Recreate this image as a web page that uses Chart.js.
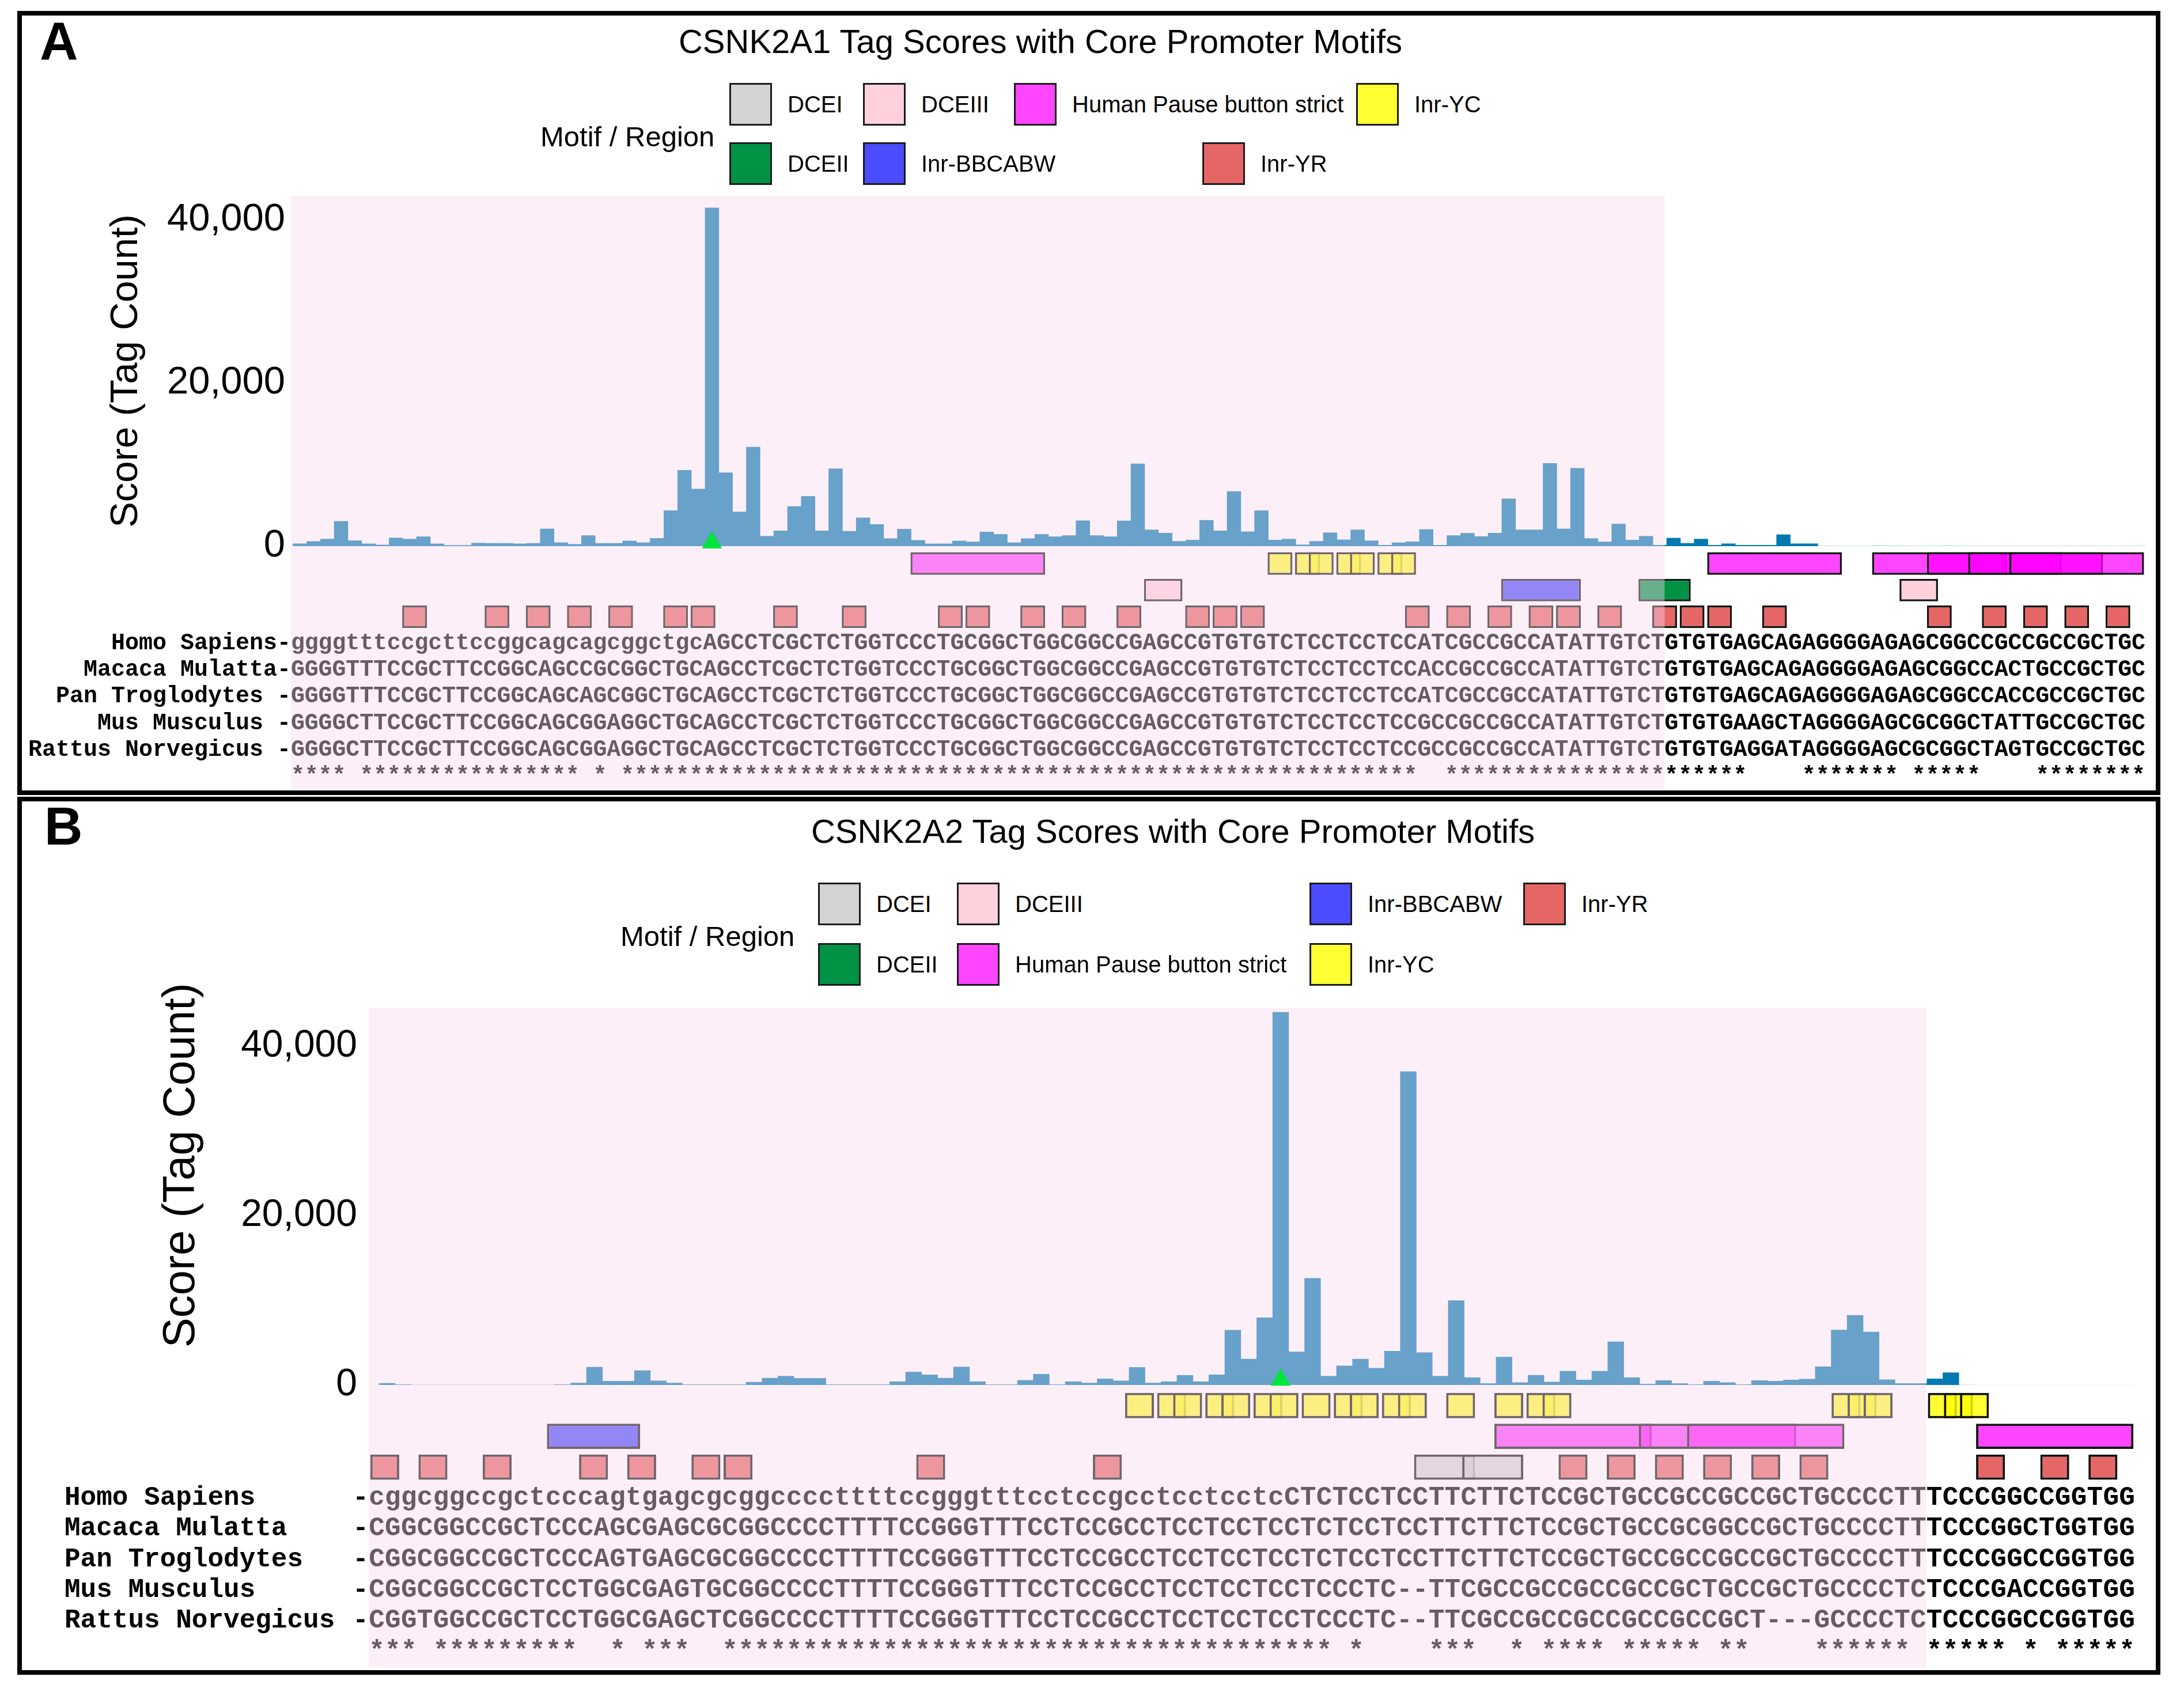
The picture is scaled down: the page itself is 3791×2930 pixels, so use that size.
<!DOCTYPE html>
<html>
<head>
<meta charset="utf-8">
<script src="https://cdn.jsdelivr.net/npm/chart.js"></script>
<style>
  html, body { margin: 0; padding: 0; background: #fff; }
  body { width: 3791px; height: 2930px; position: relative; overflow: hidden; font-family: "Liberation Sans", Arial, sans-serif; color: #000; }
  .panel { position: absolute; border: 8px solid #000; box-sizing: border-box; }
  .tag { position: absolute; font-weight: bold; font-size: 92px; line-height: 1; }
  .title { position: absolute; width: 2400px; text-align: center; font-size: 58px; line-height: 1; }
  .lgTitle { position: absolute; font-size: 49px; line-height: 1; transform: translateY(-50%); white-space: nowrap; }
  .sw { position: absolute; width: 74px; height: 74px; border: 3px solid #1b1b1b; box-sizing: border-box; }
  .lgText { position: absolute; font-size: 40px; line-height: 1; transform: translateY(-50%); white-space: nowrap; }
  canvas { position: absolute; left: 0; }
</style>
</head>
<body>
<div class="panel" style="left:30px;top:19px;width:3720px;height:1361px"></div>
<div class="panel" style="left:30px;top:1383px;width:3720px;height:1524px"></div>
<div class="tag" style="left:69px;top:25px">A</div>
<div class="tag" style="left:77px;top:1388px">B</div>
<div class="title" style="left:606px;top:43px">CSNK2A1 Tag Scores with Core Promoter Motifs</div>
<div class="title" style="left:836px;top:1414px">CSNK2A2 Tag Scores with Core Promoter Motifs</div>

<canvas id="barsA" width="3724" height="738" style="top:270px;width:3724px;height:738px"></canvas>
<canvas id="trackA" width="3724" height="476" style="top:925px;width:3724px;height:476px"></canvas>
<canvas id="barsB" width="3706" height="784" style="top:1680px;width:3706px;height:784px"></canvas>
<canvas id="trackB" width="3706" height="541" style="top:2383px;width:3706px;height:541px"></canvas>

<script>
// ---- motif legend ----
const motifNames = ['DCEI', 'DCEII', 'DCEIII', 'Human Pause button strict', 'Inr-BBCABW', 'Inr-YC', 'Inr-YR'];
const motifColors = ['rgba(200,200,200,0.8)', '#009245', '#ffd1dc', 'rgba(255,0,255,0.73)', '#4b4bff', 'rgba(255,255,0,0.8)', 'rgba(224,64,64,0.8)'];

const yTicks = [0, 20000, 40000];

// ---- CSNK2A1 tag scores (one per aligned base) ----
const tagsA = [
  300, 580, 870, 3050, 670, 290, 150, 1010, 870, 1160,
  290, 100, 100, 380, 350, 350, 290, 350, 2120, 430,
  230, 1300, 350, 350, 640, 430, 960, 4350, 9300, 7000,
  41500, 9000, 4200, 12150, 1220, 1880, 4870, 6100, 1880, 9500,
  1830, 3480, 2670, 930, 2090, 720, 290, 290, 640, 520,
  1740, 1450, 430, 930, 1450, 1160, 1300, 3130, 1300, 1160,
  3100, 10100, 2000, 1600, 590, 750, 3180, 1880, 6700, 1770,
  4360, 750, 870, 165, 590, 1650, 780, 2000, 660, 120,
  420, 540, 2050, 120, 1300, 1580, 1180, 1600, 5800, 2000,
  2000, 10150, 2120, 9550, 940, 520, 2710, 750, 1220, 120,
  990, 350, 870, 120, 300, 120, 120, 120, 1410, 300,
  300, 70, 60, 60, 60, 110, 90, 60, 60, 60,
  100, 60, 50, 50, 50, 50, 50, 50, 50, 50,
  50, 50, 50, 50, 50
];

// ---- CSNK2A2 tag scores ----
const tagsB = [
  200, 40, 0, 0, 0, 0, 0, 0, 0, 0,
  0, 40, 230, 2100, 450, 450, 1700, 490, 230, 40,
  40, 40, 40, 330, 810, 1040, 780, 780, 40, 40,
  40, 40, 390, 1530, 1200, 810, 2120, 390, 40, 40,
  550, 1270, 40, 390, 230, 720, 490, 2080, 230, 390,
  1140, 390, 1200, 6480, 3060, 7940, 44000, 3900, 12600, 1040,
  2260, 3050, 1980, 3990, 37000, 3820, 1040, 9960, 870, 170,
  3300, 280, 1150, 350, 1630, 590, 1630, 5100, 870, 100,
  520, 170, 40, 450, 280, 40, 520, 450, 590, 690,
  2150, 6490, 8220, 6250, 620, 170, 170, 720, 1450, 40,
  0, 0, 0, 0, 0, 0, 0, 0, 0, 0
];

// ---- alignments ----
const humanA = 'ggggtttccgcttccggcagcagcggctgcAGCCTCGCTCTGGTCCCTGCGGCTGGCGGCCGAGCCGTGTGTCTCCTCCTCCATCGCCGCCATATTGTCTGTGTGAGCAGAGGGGAGAGCGGCCGCCGCCGCTGC';
const macacaA = 'GGGGTTTCCGCTTCCGGCAGCCGCGGCTGCAGCCTCGCTCTGGTCCCTGCGGCTGGCGGCCGAGCCGTGTGTCTCCTCCTCCACCGCCGCCATATTGTCTGTGTGAGCAGAGGGGAGAGCGGCCACTGCCGCTGC';
const panA = 'GGGGTTTCCGCTTCCGGCAGCAGCGGCTGCAGCCTCGCTCTGGTCCCTGCGGCTGGCGGCCGAGCCGTGTGTCTCCTCCTCCATCGCCGCCATATTGTCTGTGTGAGCAGAGGGGAGAGCGGCCACCGCCGCTGC';
const musA = 'GGGGCTTCCGCTTCCGGCAGCGGAGGCTGCAGCCTCGCTCTGGTCCCTGCGGCTGGCGGCCGAGCCGTGTGTCTCCTCCTCCGCCGCCGCCATATTGTCTGTGTGAAGCTAGGGGAGCGCGGCTATTGCCGCTGC';
const ratA = 'GGGGCTTCCGCTTCCGGCAGCGGAGGCTGCAGCCTCGCTCTGGTCCCTGCGGCTGGCGGCCGAGCCGTGTGTCTCCTCCTCCGCCGCCGCCATATTGTCTGTGTGAGGATAGGGGAGCGCGGCTAGTGCCGCTGC';
const starsA = '**** ' + '****************' + ' * ' + '**********************************************************' + '  ' +
  '**********************' + '    ' + '*******' + ' ' + '*****' + '    ' + '********';

const humanB = 'cggcggccgctcccagtgagcgcggccccttttccgggtttcctccgcctcctcctcCTCTCCTCCTTCTTCTCCGCTGCCGCCGCCGCTGCCCCTTTCCCGGCCGGTGG';
const macacaB = 'CGGCGGCCGCTCCCAGCGAGCGCGGCCCCTTTTCCGGGTTTCCTCCGCCTCCTCCTCCTCTCCTCCTTCTTCTCCGCTGCCGCGGCCGCTGCCCCTTTCCCGGCTGGTGG';
const panB = 'CGGCGGCCGCTCCCAGTGAGCGCGGCCCCTTTTCCGGGTTTCCTCCGCCTCCTCCTCCTCTCCTCCTTCTTCTCCGCTGCCGCCGCCGCTGCCCCTTTCCCGGCCGGTGG';
const musB = 'CGGCGGCCGCTCCTGGCGAGTGCGGCCCCTTTTCCGGGTTTCCTCCGCCTCCTCCTCCTCCCTC--TTCGCCGCCGCCGCCGCTGCCGCTGCCCCTCTCCCGACCGGTGG';
const ratB = 'CGGTGGCCGCTCCTGGCGAGCTCGGCCCCTTTTCCGGGTTTCCTCCGCCTCCTCCTCCTCCCTC--TTCGCCGCCGCCGCCGCCGCT---GCCCCTCTCCCGGCCGGTGG';
const starsB = '*** ' + '*********' + '  * ' + '***' + '  ' + '**************************************' + ' * ' + '   ' +
  '***' + '  * ' + '****' + ' ' + '*****' + ' ' + '**' + '    ' + '******' + ' ' + '*****' + ' * ' + '*****';

const labelsA = ['', '', '', 'Homo Sapiens-', 'Macaca Mulatta-', 'Pan Troglodytes -', 'Mus Musculus -', 'Rattus Norvegicus -', ''];
const labelsB = ['', '', '', 'Homo Sapiens', 'Macaca Mulatta', 'Pan Troglodytes', 'Mus Musculus', 'Rattus Norvegicus', ''];

// ---- motif hits, [first base, end base) ----
const pauseA = [[45, 55], [103, 113], [115, 125], [119, 129], [122, 132], [125, 135]];
const inrYcA = [[71, 73], [73, 75], [74, 76], [76, 78], [77, 79], [79, 81], [80, 82]];
const dce3A = [[62, 65], [117, 120]];
const bbcabwA = [[88, 94]];
const dce2A = [[98, 102]];
const inrYrA = [[8, 10], [14, 16], [17, 19], [20, 22], [23, 25], [27, 29], [29, 31], [35, 37], [40, 42], [47, 49], [49, 51],
  [53, 55], [56, 58], [60, 62], [65, 67], [67, 69], [69, 71], [81, 83], [84, 86], [87, 89], [90, 92], [92, 94], [95, 97],
  [99, 101], [101, 103], [103, 105], [107, 109], [119, 121], [123, 125], [126, 128], [129, 131], [132, 134]];

const inrYcB = [[47, 49], [49, 51], [50, 52], [52, 54], [53, 55], [55, 57], [56, 58], [58, 60], [60, 62], [61, 63], [63, 65],
  [64, 66], [67, 69], [70, 72], [72, 74], [73, 75], [91, 93], [92, 94], [93, 95], [97, 99], [98, 100], [99, 101]];
const bbcabwB = [[11, 17]];
const pauseB = [[70, 80], [79, 89], [82, 92], [100, 110]];
const dce1B = [[65, 69], [68, 72]];
const inrYrB = [[0, 2], [3, 5], [7, 9], [13, 15], [16, 18], [20, 22], [22, 24], [34, 36], [45, 47], [74, 76], [77, 79],
  [80, 82], [83, 85], [86, 88], [89, 91], [100, 102], [104, 106], [107, 109]];

const tssA = 30, tssB = 56;
const pinkEndA = 100, pinkEndB = 97;

// ---- layout ----
const mono = '"Liberation Mono", "DejaVu Sans Mono", monospace';
const sans = '"Liberation Sans", Arial, sans-serif';
const shadeColor = 'rgba(248,217,236,0.42)';
const rowKeys = ['m0', 'm1', 'm2', 's0', 's1', 's2', 's3', 's4', 'cons'];

// titleLead: leading blanks nudge the rotated axis title up along the axis
const layA = { axisW: 505, padTop: 70, padBottom: 60, below: 7, tagMin: -0.15, tagMax: 134.85, yMax: 42969,
  tickSize: 67, tickPad: 10, titleSize: 67, titlePad: 179, titleLead: '', markY: 420, fadeFrom: 111,
  seqSize: 40, labelLeft: 0, labelAlign: 'near', boxFrac: 0.845, border: 3.5, trackPad: 30 };
const layB = { axisW: 640, padTop: 70, padBottom: 60, below: 9, tagMin: -0.65, tagMax: 110.04, yMax: 44490,
  tickSize: 66, tickPad: 20, titleSize: 78, titlePad: 269, titleLead: '     ', markY: 600, fadeFrom: 99,
  seqSize: 46, labelLeft: 112, labelAlign: 'far', boxFrac: 0.82, border: 4, trackPad: 30 };

const legendA = { title: [938, 237], rowY: [181, 284],
  items: { 'DCEI': [1266, 0], 'DCEIII': [1498, 0], 'Human Pause button strict': [1760, 0], 'Inr-YC': [2354, 0],
           'DCEII': [1266, 1], 'Inr-BBCABW': [1498, 1], 'Inr-YR': [2087, 1] } };
const legendB = { title: [1077, 1625], rowY: [1569, 1674],
  items: { 'DCEI': [1420, 0], 'DCEIII': [1661, 0], 'Inr-BBCABW': [2273, 0], 'Inr-YR': [2644, 0],
           'DCEII': [1420, 1], 'Human Pause button strict': [1661, 1], 'Inr-YC': [2273, 1] } };

function buildLegend(lg) {
  const t = document.createElement('div');
  t.className = 'lgTitle';
  t.style.left = lg.title[0] + 'px';
  t.style.top = lg.title[1] + 'px';
  t.textContent = 'Motif / Region';
  document.body.appendChild(t);
  motifNames.forEach((name, k) => {
    const [x, r] = lg.items[name];
    const cy = lg.rowY[r];
    const sw = document.createElement('div');
    sw.className = 'sw';
    sw.style.left = x + 'px';
    sw.style.top = (cy - 37) + 'px';
    sw.style.background = motifColors[k];
    document.body.appendChild(sw);
    const tx = document.createElement('div');
    tx.className = 'lgText';
    tx.style.left = (x + 101) + 'px';
    tx.style.top = cy + 'px';
    tx.textContent = name;
    document.body.appendChild(tx);
  });
}

function shade(chart, scale, end, y0, y1) {
  const x0 = scale.getPixelForValue(0);
  const x1 = scale.getPixelForValue(end);
  chart.ctx.save();
  chart.ctx.fillStyle = shadeColor;
  chart.ctx.fillRect(x0, y0, x1 - x0, y1 - y0);
  chart.ctx.restore();
}

function barChart(id, tags, tss, nCols, pinkEnd, lay) {
  const pinkPlugin = {
    id: 'pinkBars',
    afterDatasetDraw(chart, args) {
      if (args.index === 0) {
        shade(chart, chart.scales.xc, pinkEnd, chart.chartArea.top, chart.chartArea.bottom + lay.below);
      }
    }
  };
  return new Chart(document.getElementById(id), {
    type: 'bar',
    data: {
      datasets: [
        {
          type: 'bar',
          data: tags.map((v, i) => ({ x: i + 0.5, y: v })),
          backgroundColor: tags.map((v, i) => i >= lay.fadeFrom ? 'rgba(0,121,178,0.22)' : '#0079b2'),
          borderWidth: 0,
          barPercentage: 1,
          categoryPercentage: 1,
          order: 1
        },
        {
          type: 'line',
          data: [{ x: tss + 0.5, y: lay.markY }],
          showLine: false,
          pointStyle: 'triangle',
          pointRadius: 20,
          pointHoverRadius: 20,
          pointBackgroundColor: '#00e63c',
          pointBorderWidth: 0,
          clip: false,
          order: 0
        }
      ]
    },
    options: {
      responsive: false,
      animation: false,
      devicePixelRatio: 1,
      layout: { autoPadding: false, padding: { top: lay.padTop, bottom: lay.padBottom, left: 0, right: 0 } },
      plugins: { legend: { display: false }, tooltip: { enabled: false } },
      scales: {
        x: { type: 'linear', offset: false, min: lay.tagMin, max: lay.tagMax, display: false },
        xc: { type: 'linear', axis: 'x', offset: false, min: 0, max: nCols, display: false },
        y: {
          min: 0,
          max: lay.yMax,
          grid: { display: false, drawTicks: false },
          border: { display: false },
          afterBuildTicks: s => { s.ticks = yTicks.map(v => ({ value: v })); },
          afterFit: s => { s.width = lay.axisW; },
          ticks: {
            padding: lay.tickPad,
            color: '#000',
            font: { family: sans, size: lay.tickSize },
            callback: v => v.toLocaleString('en-US')
          },
          title: {
            display: true,
            text: lay.titleLead + 'Score (Tag Count)',
            color: '#000',
            font: { family: sans, size: lay.titleSize },
            padding: { top: lay.titlePad, bottom: 0 }
          }
        }
      }
    },
    plugins: [pinkPlugin]
  });
}

function trackChart(id, tracks, rows, labels, pinkEnd, lead, lay) {
  const n = rows[0].length;
  const inset = 0.1;
  const datasets = tracks.map(([name, spans, row]) => ({
    label: name,
    data: spans.map(s => ({ x: [s[0] + inset, s[1] - inset], y: rowKeys[row] })),
    backgroundColor: motifColors[motifNames.indexOf(name)],
    borderColor: '#121212',
    borderWidth: lay.border,
    borderSkipped: false,
    grouped: false,
    barPercentage: lay.boxFrac,
    categoryPercentage: 1
  }));
  const seqPlugin = {
    id: 'seqText',
    afterDatasetsDraw(chart) {
      const ctx = chart.ctx, xs = chart.scales.x, ys = chart.scales.y;
      ctx.save();
      ctx.textAlign = 'center';
      ctx.textBaseline = 'middle';
      ctx.fillStyle = '#000';
      ctx.font = 'bold ' + lay.seqSize + 'px ' + mono;
      rows.forEach((seq, r) => {
        const y = ys.getPixelForValue(r + 3);
        if (lead && r < 5) ctx.fillText(lead, xs.getPixelForValue(-0.5), y);
        for (let i = 0; i < seq.length; i++) {
          ctx.fillText(seq[i], xs.getPixelForValue(i + 0.5), y);
        }
      });
      ctx.restore();
      shade(chart, xs, pinkEnd, chart.chartArea.top, chart.chartArea.bottom);
    }
  };
  return new Chart(document.getElementById(id), {
    type: 'bar',
    data: { labels: rowKeys, datasets },
    options: {
      indexAxis: 'y',
      responsive: false,
      animation: false,
      devicePixelRatio: 1,
      layout: { autoPadding: false, padding: { top: lay.trackPad, bottom: lay.trackPad, left: lay.labelLeft, right: 0 } },
      plugins: { legend: { display: false }, tooltip: { enabled: false } },
      scales: {
        x: { type: 'linear', min: 0, max: n, display: false },
        y: {
          type: 'category',
          offset: true,
          grid: { display: false, drawTicks: false },
          border: { display: false },
          afterFit: s => { s.width = lay.axisW - lay.labelLeft; },
          ticks: {
            autoSkip: false,
            crossAlign: lay.labelAlign,
            padding: 0,
            color: '#000',
            font: { family: mono, size: lay.seqSize, weight: 'bold' },
            callback: (v, i) => labels[i]
          }
        }
      }
    },
    plugins: [seqPlugin]
  });
}

buildLegend(legendA);
buildLegend(legendB);

barChart('barsA', tagsA, tssA, humanA.length, pinkEndA, layA);
trackChart('trackA', [
  ['Human Pause button strict', pauseA, 0],
  ['Inr-YC', inrYcA, 0],
  ['DCEIII', dce3A, 1],
  ['Inr-BBCABW', bbcabwA, 1],
  ['DCEII', dce2A, 1],
  ['Inr-YR', inrYrA, 2]
], [humanA, macacaA, panA, musA, ratA, starsA], labelsA, pinkEndA, '', layA);

barChart('barsB', tagsB, tssB, humanB.length, pinkEndB, layB);
trackChart('trackB', [
  ['Inr-YC', inrYcB, 0],
  ['Inr-BBCABW', bbcabwB, 1],
  ['Human Pause button strict', pauseB, 1],
  ['DCEI', dce1B, 2],
  ['Inr-YR', inrYrB, 2]
], [humanB, macacaB, panB, musB, ratB, starsB], labelsB, pinkEndB, '-', layB);
</script>
</body>
</html>
